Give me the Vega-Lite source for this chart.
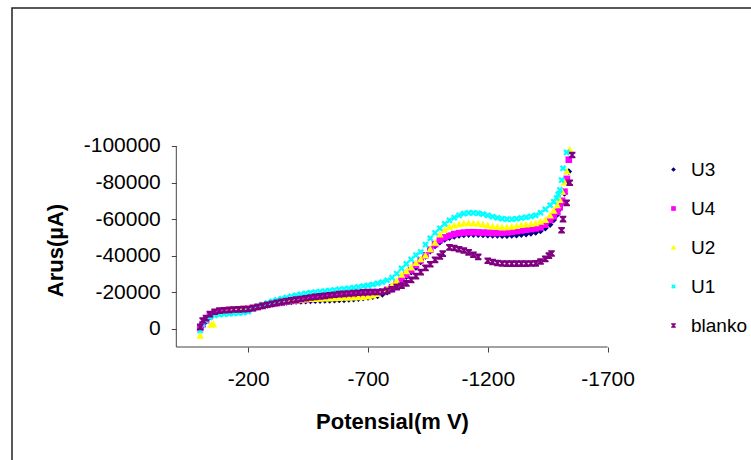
{
  "$schema": "https://vega.github.io/schema/vega-lite/v6.json",
  "width": 741,
  "height": 454,
  "autosize": {"type": "none"},
  "padding": {"left": 12, "top": 8, "right": -2, "bottom": -2},
  "background": "white",
  "config": {
    "view": {"stroke": "#222222", "strokeWidth": 1.5},
    "font": "Liberation Sans"
  },
  "datasets": {
    "curves": [
      {"s":"U3","E":0,"I":0},{"s":"U3","E":-10,"I":-2000},{"s":"U3","E":-24,"I":-4000},{"s":"U3","E":-40,"I":-6500},{"s":"U3","E":-60,"I":-8200},{"s":"U3","E":-80,"I":-9000},{"s":"U3","E":-100,"I":-9500},{"s":"U3","E":-120,"I":-9900},{"s":"U3","E":-140,"I":-10200},{"s":"U3","E":-160,"I":-10500},{"s":"U3","E":-180,"I":-10700},{"s":"U3","E":-200,"I":-10900},{"s":"U3","E":-220,"I":-11300},{"s":"U3","E":-240,"I":-11800},{"s":"U3","E":-260,"I":-12300},{"s":"U3","E":-280,"I":-12800},{"s":"U3","E":-300,"I":-13300},{"s":"U3","E":-320,"I":-13700},{"s":"U3","E":-340,"I":-14100},{"s":"U3","E":-360,"I":-14400},{"s":"U3","E":-380,"I":-14700},{"s":"U3","E":-400,"I":-14900},{"s":"U3","E":-420,"I":-15000},{"s":"U3","E":-440,"I":-15100},{"s":"U3","E":-460,"I":-15200},{"s":"U3","E":-480,"I":-15300},{"s":"U3","E":-500,"I":-15400},{"s":"U3","E":-520,"I":-15500},{"s":"U3","E":-540,"I":-15500},{"s":"U3","E":-560,"I":-15600},{"s":"U3","E":-580,"I":-15700},{"s":"U3","E":-600,"I":-15800},{"s":"U3","E":-620,"I":-16000},{"s":"U3","E":-640,"I":-16200},{"s":"U3","E":-660,"I":-16500},{"s":"U3","E":-680,"I":-16800},{"s":"U3","E":-700,"I":-17100},{"s":"U3","E":-720,"I":-17500},{"s":"U3","E":-740,"I":-18000},{"s":"U3","E":-760,"I":-18800},{"s":"U3","E":-780,"I":-20000},{"s":"U3","E":-800,"I":-21500},{"s":"U3","E":-820,"I":-23500},{"s":"U3","E":-840,"I":-26000},{"s":"U3","E":-860,"I":-28500},{"s":"U3","E":-880,"I":-31000},{"s":"U3","E":-900,"I":-33500},{"s":"U3","E":-920,"I":-36500},{"s":"U3","E":-940,"I":-39500},{"s":"U3","E":-960,"I":-42500},{"s":"U3","E":-980,"I":-45300},{"s":"U3","E":-1000,"I":-47300},{"s":"U3","E":-1020,"I":-48800},{"s":"U3","E":-1040,"I":-49800},{"s":"U3","E":-1060,"I":-50500},{"s":"U3","E":-1080,"I":-51000},{"s":"U3","E":-1100,"I":-51300},{"s":"U3","E":-1120,"I":-51500},{"s":"U3","E":-1140,"I":-51500},{"s":"U3","E":-1160,"I":-51400},{"s":"U3","E":-1180,"I":-51300},{"s":"U3","E":-1200,"I":-51200},{"s":"U3","E":-1220,"I":-51100},{"s":"U3","E":-1240,"I":-51000},{"s":"U3","E":-1260,"I":-50900},{"s":"U3","E":-1280,"I":-50900},{"s":"U3","E":-1300,"I":-51000},{"s":"U3","E":-1320,"I":-51200},{"s":"U3","E":-1340,"I":-51500},{"s":"U3","E":-1360,"I":-51800},{"s":"U3","E":-1380,"I":-52200},{"s":"U3","E":-1400,"I":-52700},{"s":"U3","E":-1420,"I":-53500},{"s":"U3","E":-1440,"I":-55000},{"s":"U3","E":-1460,"I":-57000},{"s":"U3","E":-1475,"I":-59500},{"s":"U3","E":-1490,"I":-62500},{"s":"U3","E":-1500,"I":-65500},{"s":"U3","E":-1510,"I":-69000},{"s":"U3","E":-1520,"I":-74000},{"s":"U3","E":-1530,"I":-80000},{"s":"U3","E":-1538,"I":-86000},
      {"s":"U4","E":0,"I":-500},{"s":"U4","E":-10,"I":-2500},{"s":"U4","E":-24,"I":-4600},{"s":"U4","E":-40,"I":-7000},{"s":"U4","E":-60,"I":-8600},{"s":"U4","E":-80,"I":-9400},{"s":"U4","E":-100,"I":-9800},{"s":"U4","E":-120,"I":-10100},{"s":"U4","E":-140,"I":-10300},{"s":"U4","E":-160,"I":-10500},{"s":"U4","E":-180,"I":-10700},{"s":"U4","E":-200,"I":-10900},{"s":"U4","E":-220,"I":-11400},{"s":"U4","E":-240,"I":-12000},{"s":"U4","E":-260,"I":-12600},{"s":"U4","E":-280,"I":-13100},{"s":"U4","E":-300,"I":-13600},{"s":"U4","E":-320,"I":-14000},{"s":"U4","E":-340,"I":-14400},{"s":"U4","E":-360,"I":-14800},{"s":"U4","E":-380,"I":-15200},{"s":"U4","E":-400,"I":-15500},{"s":"U4","E":-420,"I":-15800},{"s":"U4","E":-440,"I":-16100},{"s":"U4","E":-460,"I":-16300},{"s":"U4","E":-480,"I":-16500},{"s":"U4","E":-500,"I":-16700},{"s":"U4","E":-520,"I":-16900},{"s":"U4","E":-540,"I":-17100},{"s":"U4","E":-560,"I":-17300},{"s":"U4","E":-580,"I":-17500},{"s":"U4","E":-600,"I":-17700},{"s":"U4","E":-620,"I":-17900},{"s":"U4","E":-640,"I":-18100},{"s":"U4","E":-660,"I":-18300},{"s":"U4","E":-680,"I":-18500},{"s":"U4","E":-700,"I":-18700},{"s":"U4","E":-720,"I":-19000},{"s":"U4","E":-740,"I":-19500},{"s":"U4","E":-760,"I":-20300},{"s":"U4","E":-780,"I":-21300},{"s":"U4","E":-800,"I":-22700},{"s":"U4","E":-820,"I":-24600},{"s":"U4","E":-840,"I":-27000},{"s":"U4","E":-860,"I":-29500},{"s":"U4","E":-880,"I":-32000},{"s":"U4","E":-900,"I":-34800},{"s":"U4","E":-920,"I":-37500},{"s":"U4","E":-940,"I":-40200},{"s":"U4","E":-960,"I":-43300},{"s":"U4","E":-980,"I":-46300},{"s":"U4","E":-1000,"I":-48500},{"s":"U4","E":-1020,"I":-50000},{"s":"U4","E":-1040,"I":-51000},{"s":"U4","E":-1060,"I":-51800},{"s":"U4","E":-1080,"I":-52300},{"s":"U4","E":-1100,"I":-52600},{"s":"U4","E":-1120,"I":-52800},{"s":"U4","E":-1140,"I":-52800},{"s":"U4","E":-1160,"I":-52700},{"s":"U4","E":-1180,"I":-52600},{"s":"U4","E":-1200,"I":-52500},{"s":"U4","E":-1220,"I":-52400},{"s":"U4","E":-1240,"I":-52400},{"s":"U4","E":-1260,"I":-52500},{"s":"U4","E":-1280,"I":-52700},{"s":"U4","E":-1300,"I":-53000},{"s":"U4","E":-1320,"I":-53400},{"s":"U4","E":-1340,"I":-53800},{"s":"U4","E":-1360,"I":-54200},{"s":"U4","E":-1380,"I":-54500},{"s":"U4","E":-1400,"I":-54900},{"s":"U4","E":-1420,"I":-55500},{"s":"U4","E":-1440,"I":-57000},{"s":"U4","E":-1460,"I":-59500},{"s":"U4","E":-1475,"I":-61500},{"s":"U4","E":-1490,"I":-64000},{"s":"U4","E":-1500,"I":-66500},{"s":"U4","E":-1510,"I":-70000},{"s":"U4","E":-1520,"I":-75000},{"s":"U4","E":-1530,"I":-82000},{"s":"U4","E":-1538,"I":-92500},
      {"s":"U2","E":0,"I":3800},{"s":"U2","E":-45,"I":-2200},{"s":"U2","E":-55,"I":-2500},{"s":"U2","E":-80,"I":-8200},{"s":"U2","E":-100,"I":-9500},{"s":"U2","E":-120,"I":-10300},{"s":"U2","E":-140,"I":-10600},{"s":"U2","E":-160,"I":-10800},{"s":"U2","E":-180,"I":-11000},{"s":"U2","E":-200,"I":-11200},{"s":"U2","E":-220,"I":-11500},{"s":"U2","E":-240,"I":-12000},{"s":"U2","E":-260,"I":-12600},{"s":"U2","E":-280,"I":-13200},{"s":"U2","E":-300,"I":-13800},{"s":"U2","E":-320,"I":-14200},{"s":"U2","E":-340,"I":-14600},{"s":"U2","E":-360,"I":-15000},{"s":"U2","E":-380,"I":-15300},{"s":"U2","E":-400,"I":-15600},{"s":"U2","E":-420,"I":-15800},{"s":"U2","E":-440,"I":-16000},{"s":"U2","E":-460,"I":-16200},{"s":"U2","E":-480,"I":-16300},{"s":"U2","E":-500,"I":-16400},{"s":"U2","E":-520,"I":-16500},{"s":"U2","E":-540,"I":-16600},{"s":"U2","E":-560,"I":-16700},{"s":"U2","E":-580,"I":-16800},{"s":"U2","E":-600,"I":-16900},{"s":"U2","E":-620,"I":-17000},{"s":"U2","E":-640,"I":-17100},{"s":"U2","E":-660,"I":-17200},{"s":"U2","E":-680,"I":-17400},{"s":"U2","E":-700,"I":-17600},{"s":"U2","E":-720,"I":-18200},{"s":"U2","E":-740,"I":-19000},{"s":"U2","E":-760,"I":-20200},{"s":"U2","E":-780,"I":-21700},{"s":"U2","E":-800,"I":-23800},{"s":"U2","E":-820,"I":-26200},{"s":"U2","E":-840,"I":-29500},{"s":"U2","E":-860,"I":-31500},{"s":"U2","E":-880,"I":-33500},{"s":"U2","E":-900,"I":-36000},{"s":"U2","E":-920,"I":-38000},{"s":"U2","E":-940,"I":-40000},{"s":"U2","E":-960,"I":-43500},{"s":"U2","E":-980,"I":-47000},{"s":"U2","E":-1000,"I":-51500},{"s":"U2","E":-1020,"I":-54000},{"s":"U2","E":-1040,"I":-55600},{"s":"U2","E":-1060,"I":-56500},{"s":"U2","E":-1080,"I":-57200},{"s":"U2","E":-1100,"I":-57600},{"s":"U2","E":-1120,"I":-57700},{"s":"U2","E":-1140,"I":-57600},{"s":"U2","E":-1160,"I":-57400},{"s":"U2","E":-1180,"I":-57000},{"s":"U2","E":-1200,"I":-56500},{"s":"U2","E":-1220,"I":-56000},{"s":"U2","E":-1240,"I":-55600},{"s":"U2","E":-1260,"I":-55400},{"s":"U2","E":-1280,"I":-55500},{"s":"U2","E":-1300,"I":-55800},{"s":"U2","E":-1320,"I":-56200},{"s":"U2","E":-1340,"I":-56700},{"s":"U2","E":-1360,"I":-57000},{"s":"U2","E":-1380,"I":-57300},{"s":"U2","E":-1400,"I":-57700},{"s":"U2","E":-1420,"I":-58500},{"s":"U2","E":-1440,"I":-59500},{"s":"U2","E":-1460,"I":-62000},{"s":"U2","E":-1475,"I":-64500},{"s":"U2","E":-1490,"I":-67500},{"s":"U2","E":-1500,"I":-70500},{"s":"U2","E":-1510,"I":-75000},{"s":"U2","E":-1520,"I":-80000},{"s":"U2","E":-1530,"I":-86000},{"s":"U2","E":-1542,"I":-98000},
      {"s":"U1","E":0,"I":1000},{"s":"U1","E":-10,"I":-2500},{"s":"U1","E":-24,"I":-4500},{"s":"U1","E":-40,"I":-6200},{"s":"U1","E":-60,"I":-7300},{"s":"U1","E":-80,"I":-7800},{"s":"U1","E":-100,"I":-8000},{"s":"U1","E":-120,"I":-8200},{"s":"U1","E":-140,"I":-8400},{"s":"U1","E":-160,"I":-8600},{"s":"U1","E":-180,"I":-8800},{"s":"U1","E":-200,"I":-9300},{"s":"U1","E":-220,"I":-10800},{"s":"U1","E":-240,"I":-12200},{"s":"U1","E":-260,"I":-13200},{"s":"U1","E":-280,"I":-14100},{"s":"U1","E":-300,"I":-15000},{"s":"U1","E":-320,"I":-15800},{"s":"U1","E":-340,"I":-16500},{"s":"U1","E":-360,"I":-17100},{"s":"U1","E":-380,"I":-17700},{"s":"U1","E":-400,"I":-18300},{"s":"U1","E":-420,"I":-18800},{"s":"U1","E":-440,"I":-19300},{"s":"U1","E":-460,"I":-19700},{"s":"U1","E":-480,"I":-20000},{"s":"U1","E":-500,"I":-20300},{"s":"U1","E":-520,"I":-20600},{"s":"U1","E":-540,"I":-20900},{"s":"U1","E":-560,"I":-21200},{"s":"U1","E":-580,"I":-21500},{"s":"U1","E":-600,"I":-21800},{"s":"U1","E":-620,"I":-22100},{"s":"U1","E":-640,"I":-22500},{"s":"U1","E":-660,"I":-22900},{"s":"U1","E":-680,"I":-23300},{"s":"U1","E":-700,"I":-23700},{"s":"U1","E":-720,"I":-24200},{"s":"U1","E":-740,"I":-24800},{"s":"U1","E":-760,"I":-25500},{"s":"U1","E":-780,"I":-26500},{"s":"U1","E":-800,"I":-28000},{"s":"U1","E":-820,"I":-30200},{"s":"U1","E":-840,"I":-33000},{"s":"U1","E":-860,"I":-35500},{"s":"U1","E":-880,"I":-38000},{"s":"U1","E":-900,"I":-40300},{"s":"U1","E":-920,"I":-42000},{"s":"U1","E":-940,"I":-46000},{"s":"U1","E":-960,"I":-49500},{"s":"U1","E":-980,"I":-52500},{"s":"U1","E":-1000,"I":-55000},{"s":"U1","E":-1020,"I":-57400},{"s":"U1","E":-1040,"I":-59300},{"s":"U1","E":-1060,"I":-60800},{"s":"U1","E":-1080,"I":-62000},{"s":"U1","E":-1100,"I":-63000},{"s":"U1","E":-1120,"I":-63400},{"s":"U1","E":-1140,"I":-63400},{"s":"U1","E":-1160,"I":-63200},{"s":"U1","E":-1180,"I":-62700},{"s":"U1","E":-1200,"I":-62000},{"s":"U1","E":-1220,"I":-61300},{"s":"U1","E":-1240,"I":-60700},{"s":"U1","E":-1260,"I":-60200},{"s":"U1","E":-1280,"I":-59900},{"s":"U1","E":-1300,"I":-59900},{"s":"U1","E":-1320,"I":-60200},{"s":"U1","E":-1340,"I":-60600},{"s":"U1","E":-1360,"I":-61000},{"s":"U1","E":-1380,"I":-61500},{"s":"U1","E":-1400,"I":-62100},{"s":"U1","E":-1420,"I":-63500},{"s":"U1","E":-1440,"I":-65300},{"s":"U1","E":-1460,"I":-67600},{"s":"U1","E":-1475,"I":-69500},{"s":"U1","E":-1487,"I":-71500},{"s":"U1","E":-1494,"I":-73500},{"s":"U1","E":-1501,"I":-76000},{"s":"U1","E":-1508,"I":-81300},{"s":"U1","E":-1514,"I":-87800},{"s":"U1","E":-1529,"I":-96500},
      {"s":"blanko","E":0,"I":-1000},{"s":"blanko","E":-10,"I":-4500},{"s":"blanko","E":-24,"I":-5800},{"s":"blanko","E":-40,"I":-8000},{"s":"blanko","E":-60,"I":-9300},{"s":"blanko","E":-80,"I":-9900},{"s":"blanko","E":-100,"I":-10100},{"s":"blanko","E":-120,"I":-10300},{"s":"blanko","E":-140,"I":-10500},{"s":"blanko","E":-160,"I":-10600},{"s":"blanko","E":-180,"I":-10700},{"s":"blanko","E":-200,"I":-10800},{"s":"blanko","E":-220,"I":-11300},{"s":"blanko","E":-240,"I":-11900},{"s":"blanko","E":-260,"I":-12500},{"s":"blanko","E":-280,"I":-13100},{"s":"blanko","E":-300,"I":-13700},{"s":"blanko","E":-320,"I":-14200},{"s":"blanko","E":-340,"I":-14700},{"s":"blanko","E":-360,"I":-15100},{"s":"blanko","E":-380,"I":-15500},{"s":"blanko","E":-400,"I":-15900},{"s":"blanko","E":-420,"I":-16300},{"s":"blanko","E":-440,"I":-16700},{"s":"blanko","E":-460,"I":-17100},{"s":"blanko","E":-480,"I":-17400},{"s":"blanko","E":-500,"I":-17700},{"s":"blanko","E":-520,"I":-18000},{"s":"blanko","E":-540,"I":-18300},{"s":"blanko","E":-560,"I":-18600},{"s":"blanko","E":-580,"I":-18900},{"s":"blanko","E":-600,"I":-19100},{"s":"blanko","E":-620,"I":-19300},{"s":"blanko","E":-640,"I":-19500},{"s":"blanko","E":-660,"I":-19700},{"s":"blanko","E":-680,"I":-19900},{"s":"blanko","E":-700,"I":-20000},{"s":"blanko","E":-720,"I":-20100},{"s":"blanko","E":-740,"I":-20100},{"s":"blanko","E":-760,"I":-20200},{"s":"blanko","E":-780,"I":-20700},{"s":"blanko","E":-800,"I":-21600},{"s":"blanko","E":-820,"I":-22800},{"s":"blanko","E":-840,"I":-23500},{"s":"blanko","E":-860,"I":-24800},{"s":"blanko","E":-880,"I":-26700},{"s":"blanko","E":-900,"I":-28800},{"s":"blanko","E":-920,"I":-31000},{"s":"blanko","E":-940,"I":-33300},{"s":"blanko","E":-960,"I":-35300},{"s":"blanko","E":-980,"I":-37700},{"s":"blanko","E":-1000,"I":-39500},{"s":"blanko","E":-1012,"I":-41100},{"s":"blanko","E":-1040,"I":-44500},{"s":"blanko","E":-1060,"I":-44200},{"s":"blanko","E":-1080,"I":-43500},{"s":"blanko","E":-1100,"I":-42800},{"s":"blanko","E":-1120,"I":-41800},{"s":"blanko","E":-1140,"I":-40500},{"s":"blanko","E":-1160,"I":-39300},{"s":"blanko","E":-1200,"I":-37200},{"s":"blanko","E":-1220,"I":-36500},{"s":"blanko","E":-1240,"I":-36000},{"s":"blanko","E":-1260,"I":-35700},{"s":"blanko","E":-1280,"I":-35600},{"s":"blanko","E":-1300,"I":-35600},{"s":"blanko","E":-1320,"I":-35600},{"s":"blanko","E":-1340,"I":-35600},{"s":"blanko","E":-1360,"I":-35600},{"s":"blanko","E":-1380,"I":-35700},{"s":"blanko","E":-1400,"I":-35800},{"s":"blanko","E":-1420,"I":-36800},{"s":"blanko","E":-1440,"I":-38200},{"s":"blanko","E":-1455,"I":-40000},{"s":"blanko","E":-1466,"I":-41200},{"s":"blanko","E":-1508,"I":-53900},{"s":"blanko","E":-1514,"I":-60000},{"s":"blanko","E":-1529,"I":-68900},{"s":"blanko","E":-1542,"I":-79900},{"s":"blanko","E":-1552,"I":-95100}
    ]
  },
  "layer": [
    {
      "data": {"values": [{}]},
      "mark": {"type": "rule", "color": "#444444", "strokeWidth": 1},
      "encoding": {
        "x": {"datum": 100, "type": "quantitative", "scale": {"domain": [785.7, -2306.8], "nice": false, "zero": false}},
        "x2": {"datum": -1700},
        "y": {"datum": 10000, "type": "quantitative", "scale": {"domain": [72935, -175522], "nice": false, "zero": false}}
      }
    },
    {
      "data": {"values": [{}]},
      "mark": {"type": "rule", "color": "#444444", "strokeWidth": 1},
      "encoding": {
        "x": {"datum": 100, "type": "quantitative", "scale": {"domain": [785.7, -2306.8], "nice": false, "zero": false}},
        "y": {"datum": 10000, "type": "quantitative", "scale": {"domain": [72935, -175522], "nice": false, "zero": false}},
        "y2": {"datum": -100000}
      }
    },
    {
      "data": {"name": "curves"},
      "mark": {"type": "point", "filled": true, "opacity": 1, "size": 44, "strokeWidth": 0},
      "encoding": {
        "x": {
          "field": "E", "type": "quantitative",
          "scale": {"domain": [785.7, -2306.8], "nice": false, "zero": false},
          "axis": {
            "values": [-200, -700, -1200, -1700],
            "labelExpr": "toString(datum.value)",
            "domain": false, "grid": false, "ticks": true,
            "tickSize": 5, "tickColor": "#444444", "tickWidth": 1,
            "offset": -115,
            "labelFont": "Liberation Sans", "labelFontSize": 21, "labelColor": "#000000",
            "labelPadding": 16, "labelFlush": false, "labelOverlap": false,
            "title": "Potensial(m V)",
            "titleFont": "Liberation Sans", "titleFontSize": 22, "titleFontWeight": "bold", "titleColor": "#000000",
            "titleX": 380, "titleY": 74, "titleBaseline": "middle", "titleAlign": "center"
          }
        },
        "y": {
          "field": "I", "type": "quantitative",
          "scale": {"domain": [72935, -175522], "nice": false, "zero": false},
          "axis": {
            "values": [0, -20000, -40000, -60000, -80000, -100000],
            "labelExpr": "toString(datum.value)",
            "domain": false, "grid": false, "ticks": true,
            "tickSize": 5, "tickColor": "#444444", "tickWidth": 1,
            "offset": -164.3,
            "labelFont": "Liberation Sans", "labelFontSize": 21, "labelColor": "#000000",
            "labelPadding": 11, "labelFlush": false, "labelOverlap": false,
            "title": "Arus(µA)",
            "titleFont": "Liberation Sans", "titleFontSize": 22, "titleFontWeight": "bold", "titleColor": "#000000",
            "titleAngle": -90, "titleX": -121.3, "titleY": 242, "titleBaseline": "middle", "titleAlign": "center"
          }
        },
        "color": {
          "field": "s", "type": "nominal",
          "scale": {"domain": ["U3", "U4", "U2", "U1", "blanko"], "range": ["#000080", "#FF00FF", "#FFFF00", "#00FFFF", "#800080"]},
          "legend": {"title": null, "orient": "none", "legendX": 652, "legendY": 152, "padding": 0, "symbolSize": 22, "symbolStrokeWidth": 0, "labelFont": "Liberation Sans", "labelFontSize": 19, "labelColor": "#000000", "labelOffset": 8, "rowPadding": 19}
        },
        "shape": {
          "field": "s", "type": "nominal",
          "scale": {"domain": ["U3", "U4", "U2", "U1", "blanko"], "range": ["diamond", "square", "M0,-1.15L1.15,0.9L-1.15,0.9Z", "M-1,-0.5L-0.5,-1L0,-0.5L0.5,-1L1,-0.5L0.5,0L1,0.5L0.5,1L0,0.5L-0.5,1L-1,0.5L-0.5,0Z", "M-1,-1L1,-1L1,-0.55L0.35,0L1,0.55L1,1L-1,1L-1,0.55L-0.35,0L-1,-0.55Z"]},
          "legend": {"title": null, "orient": "none", "legendX": 652, "legendY": 152, "padding": 0, "symbolSize": 22, "symbolStrokeWidth": 0, "labelFont": "Liberation Sans", "labelFontSize": 19, "labelColor": "#000000", "labelOffset": 8, "rowPadding": 19}
        }
      }
    }
  ]
}
